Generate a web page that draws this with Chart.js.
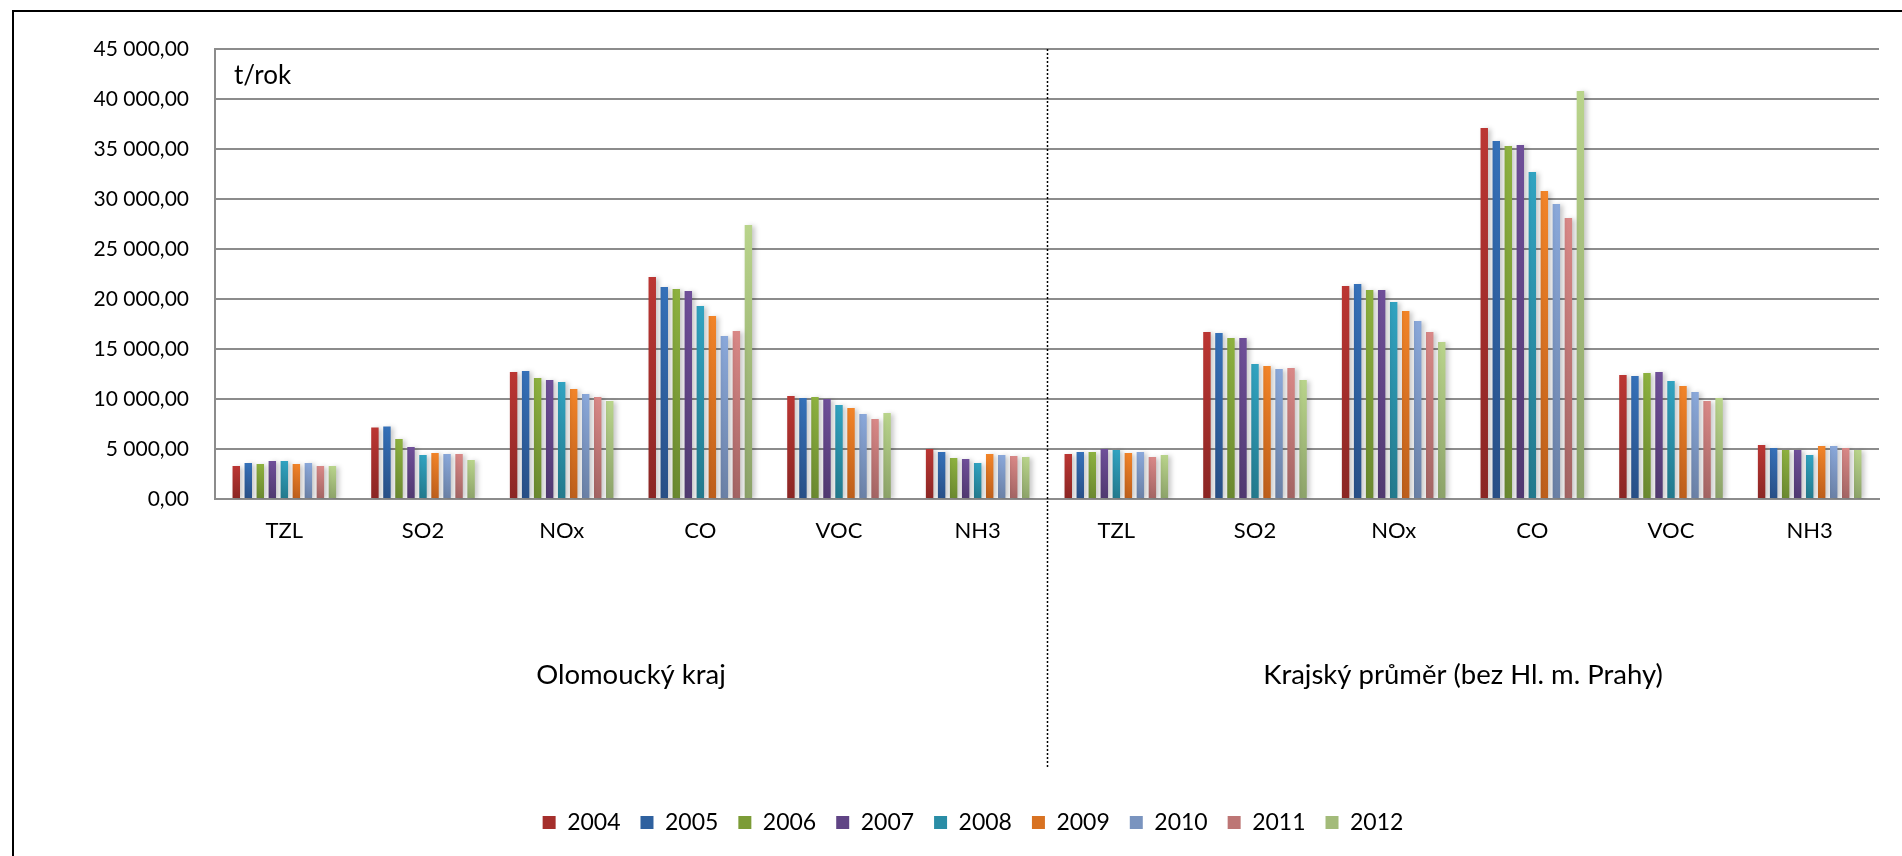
<!DOCTYPE html>
<html>
<head>
<meta charset="utf-8">
<script src="https://cdn.jsdelivr.net/npm/chart.js@4"></script>
<style>
  html, body { margin: 0; padding: 0; background: #fff; overflow: hidden; }
  #frame { position: absolute; left: 12px; top: 10px; width: 1940px; height: 900px;
           border-left: 2px solid #000; border-top: 2px solid #000; }
  #emise { position: absolute; left: 0; top: 0; }
</style>
</head>
<body>
<div id="frame"></div>
<canvas id="emise" width="1902" height="856"></canvas>
<script>
const pollutants = ['TZL', 'SO2', 'NOx', 'CO', 'VOC', 'NH3'];
const regions = ['Olomoucký kraj', 'Krajský průměr (bez Hl. m. Prahy)'];
const years = ['2004', '2005', '2006', '2007', '2008', '2009', '2010', '2011', '2012'];

// t/rok: first six = Olomoucký kraj, last six = krajský průměr
const e2004 = [3300, 7150, 12700, 22200, 10300, 5000, 4500, 16700, 21300, 37100, 12400, 5400];
const e2005 = [3600, 7250, 12800, 21200, 10100, 4700, 4700, 16600, 21500, 35800, 12300, 5100];
const e2006 = [3500, 6000, 12100, 21000, 10200, 4100, 4700, 16100, 20900, 35300, 12600, 4900];
const e2007 = [3800, 5200, 11900, 20800, 10000, 4000, 5000, 16100, 20900, 35400, 12700, 4900];
const e2008 = [3800, 4400, 11700, 19300, 9400, 3600, 4900, 13500, 19700, 32700, 11800, 4400];
const e2009 = [3500, 4600, 11000, 18300, 9100, 4500, 4600, 13300, 18800, 30800, 11300, 5300];
const e2010 = [3600, 4500, 10500, 16300, 8500, 4400, 4700, 13000, 17800, 29500, 10700, 5300];
const e2011 = [3300, 4500, 10200, 16800, 8000, 4300, 4200, 13100, 16700, 28100, 9800, 5100];
const e2012 = [3300, 3900, 9800, 27400, 8600, 4200, 4400, 11900, 15700, 40800, 10100, 4900];
const series = [e2004, e2005, e2006, e2007, e2008, e2009, e2010, e2011, e2012];

const topColors = ['#bb3633', '#3571b9', '#8db13f', '#6f4f99', '#31a3c1', '#f28428', '#8aa8da', '#d98887', '#b9d48b'];
const bottomColors = ['#8a2624', '#284f86', '#6a8830', '#503970', '#23798c', '#bc5e1b', '#6a80a5', '#a26463', '#8ca269'];
const legendColors = ['#a52f2c', '#2f619f', '#7c9c37', '#604485', '#2a8da6', '#d87222', '#7a94bf', '#bd7675', '#a3bb7a'];

const FONT = 'Lato, "Open Sans", sans-serif';

function czNumber(v) {
    const s = Math.round(v).toString().replace(/\B(?=(\d{3})+(?!\d))/g, ' ');
    return s + ',00';
}

function barGradient(i) {
    return function (c) {
        const chart = c.chart;
        if (!chart.chartArea || c.raw === undefined) {
            return topColors[i];
        }
        const y = chart.scales.y;
        const g = chart.ctx.createLinearGradient(0, y.getPixelForValue(c.raw), 0, y.getPixelForValue(0));
        g.addColorStop(0, topColors[i]);
        g.addColorStop(1, bottomColors[i]);
        return g;
    };
}

// soft shadow behind the bars
const barShadow = {
    id: 'barShadow',
    beforeDatasetsDraw(chart) {
        const ctx = chart.ctx;
        ctx.save();
        ctx.shadowColor = 'rgba(0, 0, 0, 0.22)';
        ctx.shadowBlur = 5;
        ctx.shadowOffsetX = 3;
        ctx.shadowOffsetY = 1;
    },
    afterDatasetsDraw(chart) {
        chart.ctx.restore();
    }
};

// unit text in the top left corner of the plot
const unitLabel = {
    id: 'unitLabel',
    afterDraw(chart) {
        const { ctx, chartArea } = chart;
        ctx.save();
        ctx.font = '26px ' + FONT;
        ctx.fillStyle = '#000';
        ctx.textBaseline = 'middle';
        ctx.fillText('t/rok', chartArea.left + 19, chartArea.top + 27);
        ctx.restore();
    }
};

// dotted line between the two regions, down through the axis labels
const groupDivider = {
    id: 'groupDivider',
    afterDraw(chart) {
        const { ctx, chartArea } = chart;
        const x = chart.scales.x;
        const px = Math.round((x.getPixelForValue(5) + x.getPixelForValue(6)) / 2) + 0.5;
        ctx.save();
        ctx.strokeStyle = '#000';
        ctx.lineWidth = 1.5;
        ctx.setLineDash([2, 2]);
        ctx.beginPath();
        ctx.moveTo(px, chartArea.top);
        ctx.lineTo(px, chart.scales.x2.top + 169);
        ctx.stroke();
        ctx.restore();
    }
};

const datasets = series.map((values, i) => ({
    label: years[i],
    data: values,
    backgroundColor: barGradient(i),
    borderWidth: 0,
    categoryPercentage: 0.78,
    barPercentage: 0.62
}));

new Chart(document.getElementById('emise'), {
    type: 'bar',
    data: {
        labels: pollutants.concat(pollutants),
        datasets: datasets
    },
    options: {
        responsive: false,
        animation: false,
        layout: { padding: { left: 67, right: 23, top: 49, bottom: 12 } },
        plugins: {
            tooltip: { enabled: false },
            legend: {
                position: 'bottom',
                labels: {
                    boxWidth: 13,
                    boxHeight: 13,
                    padding: 20,
                    color: '#000',
                    font: { family: FONT, size: 23 },
                    generateLabels: () => years.map((y, i) => ({
                        text: y,
                        fillStyle: legendColors[i],
                        strokeStyle: legendColors[i],
                        lineWidth: 0,
                        datasetIndex: i
                    }))
                }
            }
        },
        scales: {
            x: {
                weight: 0,
                grid: { display: false },
                border: { display: true, color: '#8c8c8c', width: 2 },
                ticks: { color: '#000', font: { family: FONT, size: 22 }, padding: 11, maxRotation: 0, autoSkip: false },
                afterFit: s => { s.height = 100; }
            },
            x2: {
                type: 'category',
                labels: regions,
                offset: true,
                position: 'bottom',
                weight: 1,
                grid: { display: false },
                border: { display: false },
                ticks: { color: '#000', font: { family: FONT, size: 27.5 }, padding: 52, maxRotation: 0 },
                afterFit: s => { s.height = 192; }
            },
            y: {
                min: 0,
                max: 45000,
                ticks: {
                    stepSize: 5000,
                    padding: 26,
                    color: '#000',
                    font: { family: FONT, size: 21 },
                    callback: v => czNumber(v)
                },
                grid: { color: '#8c8c8c', lineWidth: 2, drawTicks: false },
                border: { color: '#8c8c8c', width: 2 },
                afterFit: s => { s.width = 148; }
            }
        }
    },
    plugins: [barShadow, unitLabel, groupDivider]
});
</script>
</body>
</html>
